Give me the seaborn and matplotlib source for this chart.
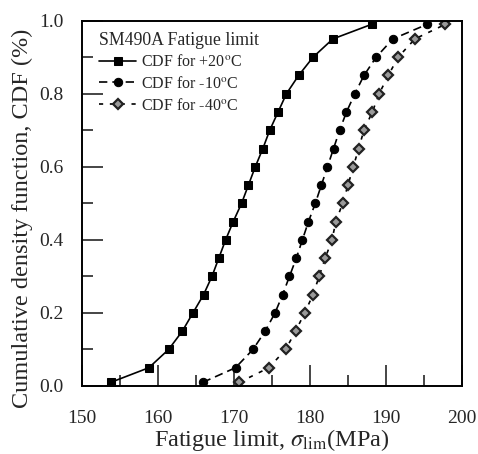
import numpy as np
import pandas as pd
import matplotlib
matplotlib.use("Agg")
import matplotlib.pyplot as plt
import seaborn as sns
from matplotlib.ticker import MultipleLocator

# cumulative probabilities (same for all three series)
cdf = [0.01, 0.05, 0.10, 0.15, 0.20, 0.25, 0.30, 0.35, 0.40, 0.45, 0.50,
       0.55, 0.60, 0.65, 0.70, 0.75, 0.80, 0.85, 0.90, 0.95, 0.99]

# fatigue limit (MPa)
limit_p20 = [153.8, 158.8, 161.4, 163.2, 164.6, 166.0, 167.1, 168.0, 168.9, 169.9, 171.0,
             171.9, 172.8, 173.8, 174.7, 175.8, 176.9, 178.5, 180.4, 183.0, 188.1]
limit_m10 = [165.9, 170.2, 172.5, 174.1, 175.4, 176.4, 177.3, 178.2, 179.0, 179.8, 180.7,
             181.5, 182.3, 183.1, 183.9, 184.8, 185.9, 187.1, 188.7, 190.9, 195.4]
limit_m40 = [170.7, 174.6, 176.8, 178.1, 179.3, 180.4, 181.2, 182.0, 182.9, 183.4, 184.3,
             185.0, 185.7, 186.4, 187.1, 188.2, 189.1, 190.3, 191.6, 193.8, 197.8]

labels = ["CDF for +20$^{\\mathrm{o}}$C", "CDF for -10$^{\\mathrm{o}}$C", "CDF for -40$^{\\mathrm{o}}$C"]

sns.set_style("ticks")
plt.rcParams['font.family'] = ['Liberation Serif', 'DejaVu Serif']
plt.rcParams['mathtext.fontset'] = 'stix'

fig = plt.figure(figsize=(4.78, 4.54), dpi=100)
ax = fig.add_axes([0.1715, 0.1498, 0.795, 0.8046])

sns.lineplot(x=limit_p20, y=cdf, ax=ax, sort=False, errorbar=None, color='black',
             linestyle='-', linewidth=1.2, marker='s', markersize=5.5,
             markeredgecolor='black', label=labels[0])
sns.lineplot(x=limit_m10, y=cdf, ax=ax, sort=False, errorbar=None, color='black',
             linestyle=(0, (5, 3)), linewidth=1.2, marker='o', markersize=6,
             markeredgecolor='black', label=labels[1])
sns.lineplot(x=limit_m40, y=cdf, ax=ax, sort=False, errorbar=None, color='black',
             linestyle=(0, (2.5, 4)), linewidth=1.2, marker='D', markersize=5.5,
             markerfacecolor='#9a9a9a', markeredgecolor='#222222', markeredgewidth=1.6,
             label=labels[2])

ax.set_xlim(150, 200)
ax.set_ylim(0, 1.0)
ax.xaxis.set_major_locator(MultipleLocator(10))
ax.xaxis.set_minor_locator(MultipleLocator(5))
ax.yaxis.set_major_locator(MultipleLocator(0.2))
ax.yaxis.set_minor_locator(MultipleLocator(0.1))
ax.yaxis.set_major_formatter(matplotlib.ticker.FormatStrFormatter('%.1f'))
ax.tick_params(which='major', direction='in', length=15, width=1.2, labelsize=14,
               top=False, right=False)
ax.tick_params(which='minor', direction='in', length=8, width=1.2, top=False, right=False)
ax.tick_params(axis='x', which='major', pad=17)
ax.tick_params(axis='y', which='major', pad=13)
for s in ax.spines.values():
    s.set_linewidth(1.4)
    s.set_color('black')

ax.set_xlabel("Fatigue limit, $\\sigma_{\\mathrm{lim}}$(MPa)", fontsize=17.5)
ax.set_ylabel("Cumulative density function, CDF (%)", fontsize=17.5)
ax.yaxis.set_label_coords(-0.129, 0.46)
ax.xaxis.set_label_coords(0.5, -0.112)

leg = ax.legend(title="SM490A Fatigue limit", loc='upper left', frameon=False,
                fontsize=11.5, title_fontsize=12.8, handlelength=2.3, handletextpad=0.3,
                labelspacing=0.35, borderaxespad=0.3, bbox_to_anchor=(0.016, 1.0))
leg._legend_box.align = "left"

fig.savefig("out.png", dpi=100)
